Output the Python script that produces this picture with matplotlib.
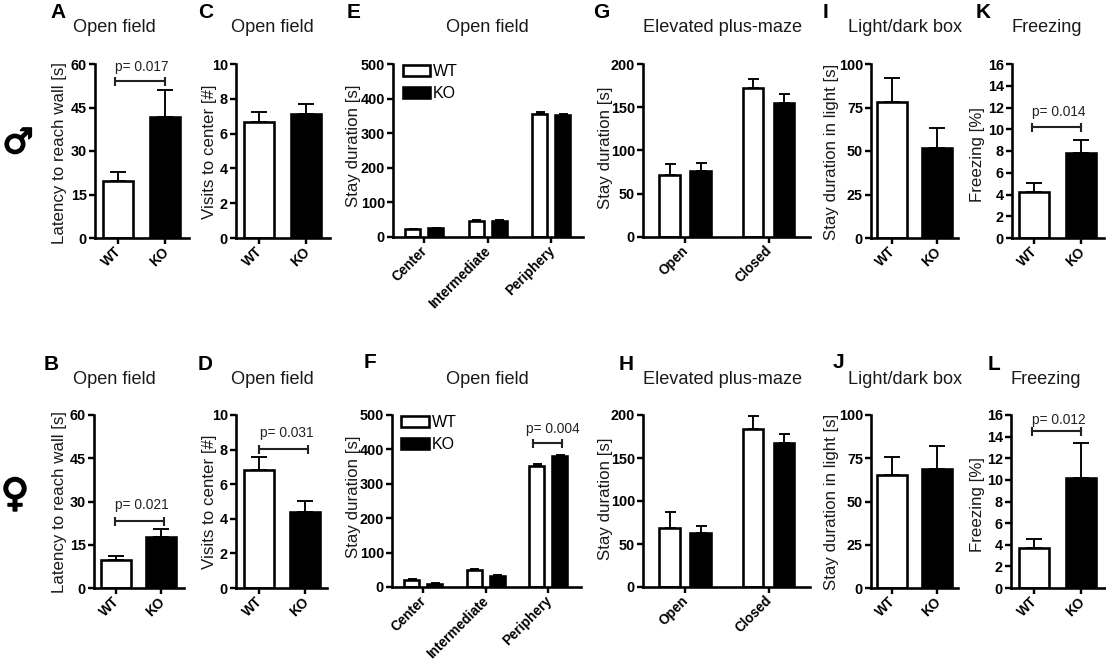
import matplotlib
matplotlib.use('Agg')
import matplotlib.pyplot as plt
import matplotlib.patheffects as pe
from matplotlib.patches import Patch
from matplotlib.transforms import ScaledTranslation
import numpy as np

plt.rcParams['font.family'] = ['Liberation Sans', 'DejaVu Sans']

W, H = 1106, 661
PT = 72 / 100  # pixels to points

# --- data: two bar panels
genotypes = ['WT', 'KO']
a_mean, a_err = [19.5, 41.7], [3.2, 9.3]
b_mean, b_err = [9.8, 17.7], [1.2, 2.6]
c_mean, c_err = [6.65, 7.15], [0.6, 0.55]
d_mean, d_err = [6.8, 4.4], [0.8, 0.65]
i_mean, i_err = [78, 52], [13.7, 11.3]
j_mean, j_err = [65.5, 68.5], [10.5, 13.3]
k_mean, k_err = [4.2, 7.8], [0.9, 1.2]
l_mean, l_err = [3.7, 10.2], [0.8, 3.2]

# --- data: grouped panels
zones = ['Center', 'Intermediate', 'Periphery']
arms = ['Open', 'Closed']
e_wt, e_wt_err = [22, 45, 355], [2, 3, 5]
e_ko, e_ko_err = [25, 46, 353], [1.5, 2, 3]
f_wt, f_wt_err = [21, 48, 353], [3, 4, 6]
f_ko, f_ko_err = [9, 32, 381], [1.5, 2.5, 4]
g_wt, g_wt_err = [72, 172], [12, 11]
g_ko, g_ko_err = [76, 155], [9, 10]
h_wt, h_wt_err = [69, 184], [18, 15]
h_ko, h_ko_err = [63, 168], [8, 10]

ticks_60 = [0, 15, 30, 45, 60]
ticks_10 = [0, 2, 4, 6, 8, 10]
ticks_500 = [0, 100, 200, 300, 400, 500]
ticks_200 = [0, 50, 100, 150, 200]
ticks_100 = [0, 25, 50, 75, 100]
ticks_16 = [0, 2, 4, 6, 8, 10, 12, 14, 16]

fig = plt.figure(figsize=(W / 100, H / 100), dpi=100)
fig.patch.set_facecolor('white')


def ftext(x, y, s, **kw):
    return fig.text(x / W, 1 - y / H, s, **kw)


def make_axes(left, right, top, base, ymax, yticks, ylabel, label_x, label_y):
    ax = fig.add_axes([left / W, 1 - base / H, (right - left) / W, (base - top) / H])
    ax.set_ylim(0, ymax)
    ax.set_yticks(yticks)
    for s in ['top', 'right']:
        ax.spines[s].set_visible(False)
    for s in ['left', 'bottom']:
        ax.spines[s].set_linewidth(2.6 * PT)
    ax.tick_params(axis='both', length=6 * PT, width=2.4 * PT)
    ax.tick_params(axis='y', labelsize=10.4, pad=1.5)
    ax.tick_params(axis='x', pad=0.5)
    for t in ax.get_yticklabels():
        t.set_fontweight('bold')
    ax.set_ylabel(ylabel, fontsize=12.2, labelpad=0, va='center', color='#1a1a1a')
    ax.yaxis.set_label_coords((label_x + 1.5 - left) / (right - left), (base - label_y) / (base - top))
    return ax


def xlabels(ax, labels):
    ax.set_xticklabels(labels, rotation=45, ha='right', rotation_mode='anchor',
                       fontsize=9.8, fontweight='bold')
    shift = ScaledTranslation(-3.5 / 100, 0, fig.dpi_scale_trans)
    for t in ax.get_xticklabels():
        t.set_transform(t.get_transform() + shift)


def draw_bars(ax, x, means, errs, width, fill, cap):
    ax.errorbar(x, means, yerr=[np.zeros(len(errs)), errs], fmt='none', ecolor='black',
                elinewidth=1.9 * PT, capsize=cap * PT, capthick=1.9 * PT, zorder=1)
    ax.bar(x, means, width, facecolor=fill, edgecolor='black', linewidth=2.6 * PT, zorder=2)


def bracket(ax, x0, x1, y, text, text_y, dx=2):
    ax.plot([x0, x1], [y, y], color='#222222', lw=2.1 * PT, marker='|', ms=9 * PT,
            mew=2.1 * PT, clip_on=False, zorder=3)
    ax.annotate(text, ((x0 + x1) / 2, text_y), xytext=(dx * PT, -0.7), textcoords='offset points',
                ha='center', va='center', fontsize=9.9, color='#222222', annotation_clip=False)


def two_bars(left, right, top, base, c0, c1, means, errs, ymax, yticks, ylabel, label_x, label_y):
    ax = make_axes(left, right, top, base, ymax, yticks, ylabel, label_x, label_y)
    step = c1 - c0
    ax.set_xlim((left - c0) / step, (right - c0) / step)
    x = np.arange(2)
    ax.set_xticks(x)
    xlabels(ax, genotypes)
    w = 29.5 / step
    draw_bars(ax, x[:1], means[:1], errs[:1], w, 'white', 8)
    draw_bars(ax, x[1:], means[1:], errs[1:], w, 'black', 8)
    return ax


def grouped(left, right, top, base, c0, step, off, bw, cats, wt, wt_err, ko, ko_err,
            ymax, yticks, label_x, label_y, cap):
    ax = make_axes(left, right, top, base, ymax, yticks, 'Stay duration [s]', label_x, label_y)
    ax.set_xlim((left - c0) / step, (right - c0) / step)
    x = np.arange(len(cats))
    ax.set_xticks(x)
    xlabels(ax, cats)
    draw_bars(ax, x - off / step, wt, wt_err, bw / step, 'white', cap)
    draw_bars(ax, x + off / step, ko, ko_err, bw / step, 'black', cap)
    return ax


def add_legend(ax, y_anchor):
    handles = [Patch(facecolor='white', edgecolor='black', linewidth=2.6 * PT),
               Patch(facecolor='black', edgecolor='black', linewidth=2.6 * PT)]
    ax.legend(handles, genotypes, loc='upper left', frameon=False, fontsize=11.5,
              bbox_to_anchor=(0.05, y_anchor), borderaxespad=0, borderpad=0,
              handlelength=1.7, handleheight=0.7, handletextpad=0.2, labelspacing=0.45)


# top row
ax_a = two_bars(95, 189, 64, 238, 118, 165, a_mean, a_err, 60, ticks_60,
                'Latency to reach wall [s]', 58, 153)
bracket(ax_a, -0.06, 1.0, 54, 'p= 0.017', 59.3)
two_bars(236, 330, 64, 238, 259, 306, c_mean, c_err, 10, ticks_10, 'Visits to center [#]', 208, 152)
ax_e = grouped(393, 583, 64, 237, 424, 63.5, 11.5, 15, zones, e_wt, e_wt_err, e_ko, e_ko_err,
               500, ticks_500, 352, 146, 4.5)
add_legend(ax_e, 1.0)
grouped(643, 810, 64, 237, 685, 83.5, 15.5, 20.5, arms, g_wt, g_wt_err, g_ko, g_ko_err,
        200, ticks_200, 604, 148, 5.5)
two_bars(871, 958, 64, 238, 892, 937, i_mean, i_err, 100, ticks_100,
         'Stay duration in light [s]', 830, 152)
ax_k = two_bars(1012, 1104, 64, 238, 1034, 1081, k_mean, k_err, 16, ticks_16, 'Freezing [%]', 976, 155)
bracket(ax_k, -0.04, 1.0, 10.2, 'p= 0.014', 11.65)

# bottom row
ax_b = two_bars(94, 184, 415, 588, 116, 161, b_mean, b_err, 60, ticks_60,
                'Latency to reach wall [s]', 58, 502)
bracket(ax_b, -0.03, 1.07, 23.3, 'p= 0.021', 29)
ax_d = two_bars(236, 327, 415, 588, 259, 305, d_mean, d_err, 10, ticks_10, 'Visits to center [#]', 208, 502)
bracket(ax_d, 0.0, 1.06, 8.05, 'p= 0.031', 9.0, dx=3)
ax_f = grouped(392, 581, 415, 587, 423, 62.5, 11.5, 15, zones, f_wt, f_wt_err, f_ko, f_ko_err,
               500, ticks_500, 352, 497, 4.5)
add_legend(ax_f, 1.0)
bracket(ax_f, 1.76, 2.22, 419, 'p= 0.004', 462, dx=5)
grouped(643, 810, 415, 587, 685, 83.5, 15.5, 20.5, arms, h_wt, h_wt_err, h_ko, h_ko_err,
        200, ticks_200, 604, 499, 5.5)
two_bars(871, 958, 415, 588, 892, 937, j_mean, j_err, 100, ticks_100,
         'Stay duration in light [s]', 830, 502)
ax_l = two_bars(1011, 1105, 415, 588, 1034, 1081, l_mean, l_err, 16, ticks_16, 'Freezing [%]', 976, 505)
bracket(ax_l, -0.04, 1.0, 14.5, 'p= 0.012', 15.6)

# titles
titles = [(114, 28, 'Open field'), (272, 28, 'Open field'), (487, 28, 'Open field'),
          (722, 28, 'Elevated plus-maze'), (905, 28, 'Light/dark box'), (1047, 28, 'Freezing'),
          (114, 380, 'Open field'), (272, 380, 'Open field'), (487, 380, 'Open field'),
          (722, 380, 'Elevated plus-maze'), (905, 380, 'Light/dark box'), (1046, 380, 'Freezing')]
for x, y, s in titles:
    ftext(x, y, s, fontsize=13.1, ha='center', va='center', color='#1a1a1a')

# panel letters
letters = [(50, 12, 'A'), (198, 12, 'C'), (347, 12, 'E'), (593, 12, 'G'), (823, 12, 'I'), (976, 12, 'K'),
           (44, 364, 'B'), (198, 364, 'D'), (364, 362, 'F'), (619, 364, 'H'), (833, 362, 'J'), (988, 364, 'L')]
for x, y, s in letters:
    ftext(x, y, s, fontsize=15, fontweight='bold', ha='left', va='center')

# sex symbols
stroke = [pe.withStroke(linewidth=1.2, foreground='black')]
ftext(18, 143, '\u2642', fontsize=25, fontweight='bold', ha='center', va='center',
      family='DejaVu Sans', path_effects=stroke)
ftext(15, 495, '\u2640', fontsize=28, fontweight='bold', ha='center', va='center',
      family='DejaVu Sans', path_effects=stroke)

fig.savefig('out.png', dpi=100)
plt.close(fig)
